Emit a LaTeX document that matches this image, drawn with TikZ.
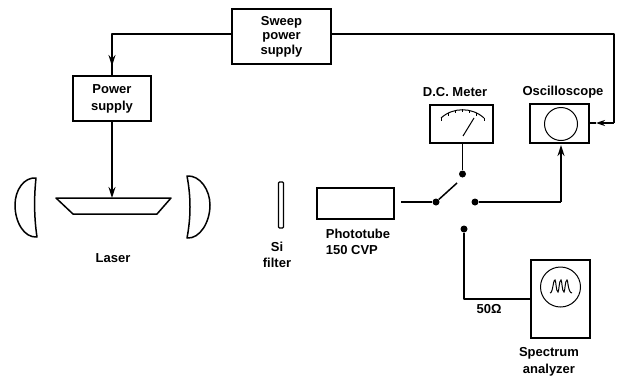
\documentclass[tikz,border=0pt]{standalone}
\usepackage{fontspec}
\setmainfont{Liberation Sans}
\usetikzlibrary{arrows.meta}
\tikzset{
  every node/.style={font=\fontsize{13}{14.5}\selectfont\bfseries},
  box/.style={draw,line width=1.5pt,inner sep=0pt,align=center},
  wire/.style={line width=1.5pt,line join=round},
  tip/.style={wire,-{Stealth[length=11pt,width=7pt]}},
  dot/.style={circle,fill=black,inner sep=0pt,minimum size=7pt},
  label/.style={align=center,inner sep=0pt},
  opt/.style={line width=1.5pt,line join=round}
}
\begin{document}
\begin{tikzpicture}[x=1pt,y=-1pt]
\useasboundingbox (0,0) rectangle (617,378);
\node[box,minimum width=99,minimum height=55] (sweep) at (281.5,36.5) {Sweep\\power\\supply};
\node[box,minimum width=78,minimum height=45] (power) at (112,98.5) {Power\\[2.5pt]supply};
\node[box,minimum width=63,minimum height=38] (meter) at (461.5,124) {};
\node[box,minimum width=59,minimum height=39] (scope) at (559.5,123.5) {};
\node[box,minimum width=77,minimum height=31] (tube) at (355.5,203.5) {};
\node[box,minimum width=59,minimum height=78] (spec) at (560.5,299) {};
\node[draw,circle,line width=1pt,minimum size=33pt,inner sep=0pt] (screen) at (561,124) {};
\node[draw,circle,line width=1pt,minimum size=40pt,inner sep=0pt] (specscreen) at (560.5,287) {};
\node[dot] (meterdot) at (462.5,174) {};
\node[dot] (pivot) at (436,202) {};
\node[dot] (scopedot) at (475,202) {};
\node[dot] (specdot) at (464,229) {};
\coordinate (armend) at (457,183);
\coordinate (laser) at (112,198);
\coordinate (arrowA) at (112,66);
\coordinate (arrowB) at (561,145);
\coordinate (arrowC) at (561,202);
\coordinate (arrowD) at (596,123);
\coordinate (corner) at (614,34);
\coordinate (corner2) at (614,123);
\coordinate (specin) at (464,299);
\coordinate (leftrun) at (112,34);
\coordinate (tubeout) at (401,202);
% wiring
\draw[wire] (sweep.west |- leftrun) -- (leftrun) -- (arrowA);
\draw[tip] (112,50) -- (arrowA);
\draw[wire] (arrowA) -- (power.north);
\draw[tip] (power.south) -- (laser);
\draw[wire] (sweep.east |- corner) -- (corner) -- (corner2);
\draw[wire,-{Stealth[length=9pt,width=6pt]}] (corner2) -- (arrowD);
\draw[wire] (arrowD) -- (scope.east |- corner2);
\draw[wire] (meter.south -| meterdot) -- (meterdot);
\draw[wire] (tubeout) -- (pivot);
\draw[wire] (pivot) -- (armend);
\draw[wire] (scopedot) -- (arrowC);
\draw[tip] (arrowC) -- (arrowB);
\draw[wire] (specdot) -- (specin) -- (spec.west |- specin);
% laser and optics
\draw[opt] (56,198) -- (171,198) -- (157,214) -- (73,214) -- cycle;
\draw[opt] (36,178) .. controls (24,177) and (15,190) .. (15,205) .. controls (15,222) and (24,238) .. (37,237) .. controls (34,217) and (34,197) .. (36,178) -- cycle;
\draw[opt] (187,176) .. controls (200,175) and (210,190) .. (210,205) .. controls (210,222) and (200,239) .. (187,238) .. controls (191,217) and (191,197) .. (187,176) -- cycle;
\draw[line width=1.3pt,rounded corners=1pt] (278.5,182) rectangle (283.5,228);
% meter face
\draw[line width=1pt] (441,118) .. controls (453,107) and (472,107) .. (484,118);
\foreach \a/\b in {441/118,448/113,455/110,462/109,469/110,476/113,484/118}{\draw[line width=.8pt] (\a,\b) -- (\a,\b+2.5);}
\draw[line width=1pt] (463,136) -- (474,118);
% spectrum trace
\draw[line width=1pt] (550,293) .. controls (553,293) and (553,280) .. (555,280) .. controls (556,280) and (556,292) .. (558,292) .. controls (559,292) and (559,280) .. (561,280) .. controls (562,280) and (562,292) .. (564,292) .. controls (565,292) and (565,280) .. (567,280) .. controls (568,280) and (568,293) .. (572,293);
% labels
\node[label] (tlaser) at (113,258) {Laser};
\node[label] (tsi) at (277,255) {Si\\[2pt]filter};
\node[label,align=left] (ttube) at (358,242) {Phototube\\[2pt]150 CVP};
\node[label] (tmeter) at (455,92) {D.C. Meter};
\node[label] (tscope) at (563,92) {Oscilloscope};
\node[label] (tohm) at (489,309) {50Ω};
\node[label] (tspec) at (549,362) {Spectrum\\[2pt]analyzer};
\end{tikzpicture}
\end{document}
